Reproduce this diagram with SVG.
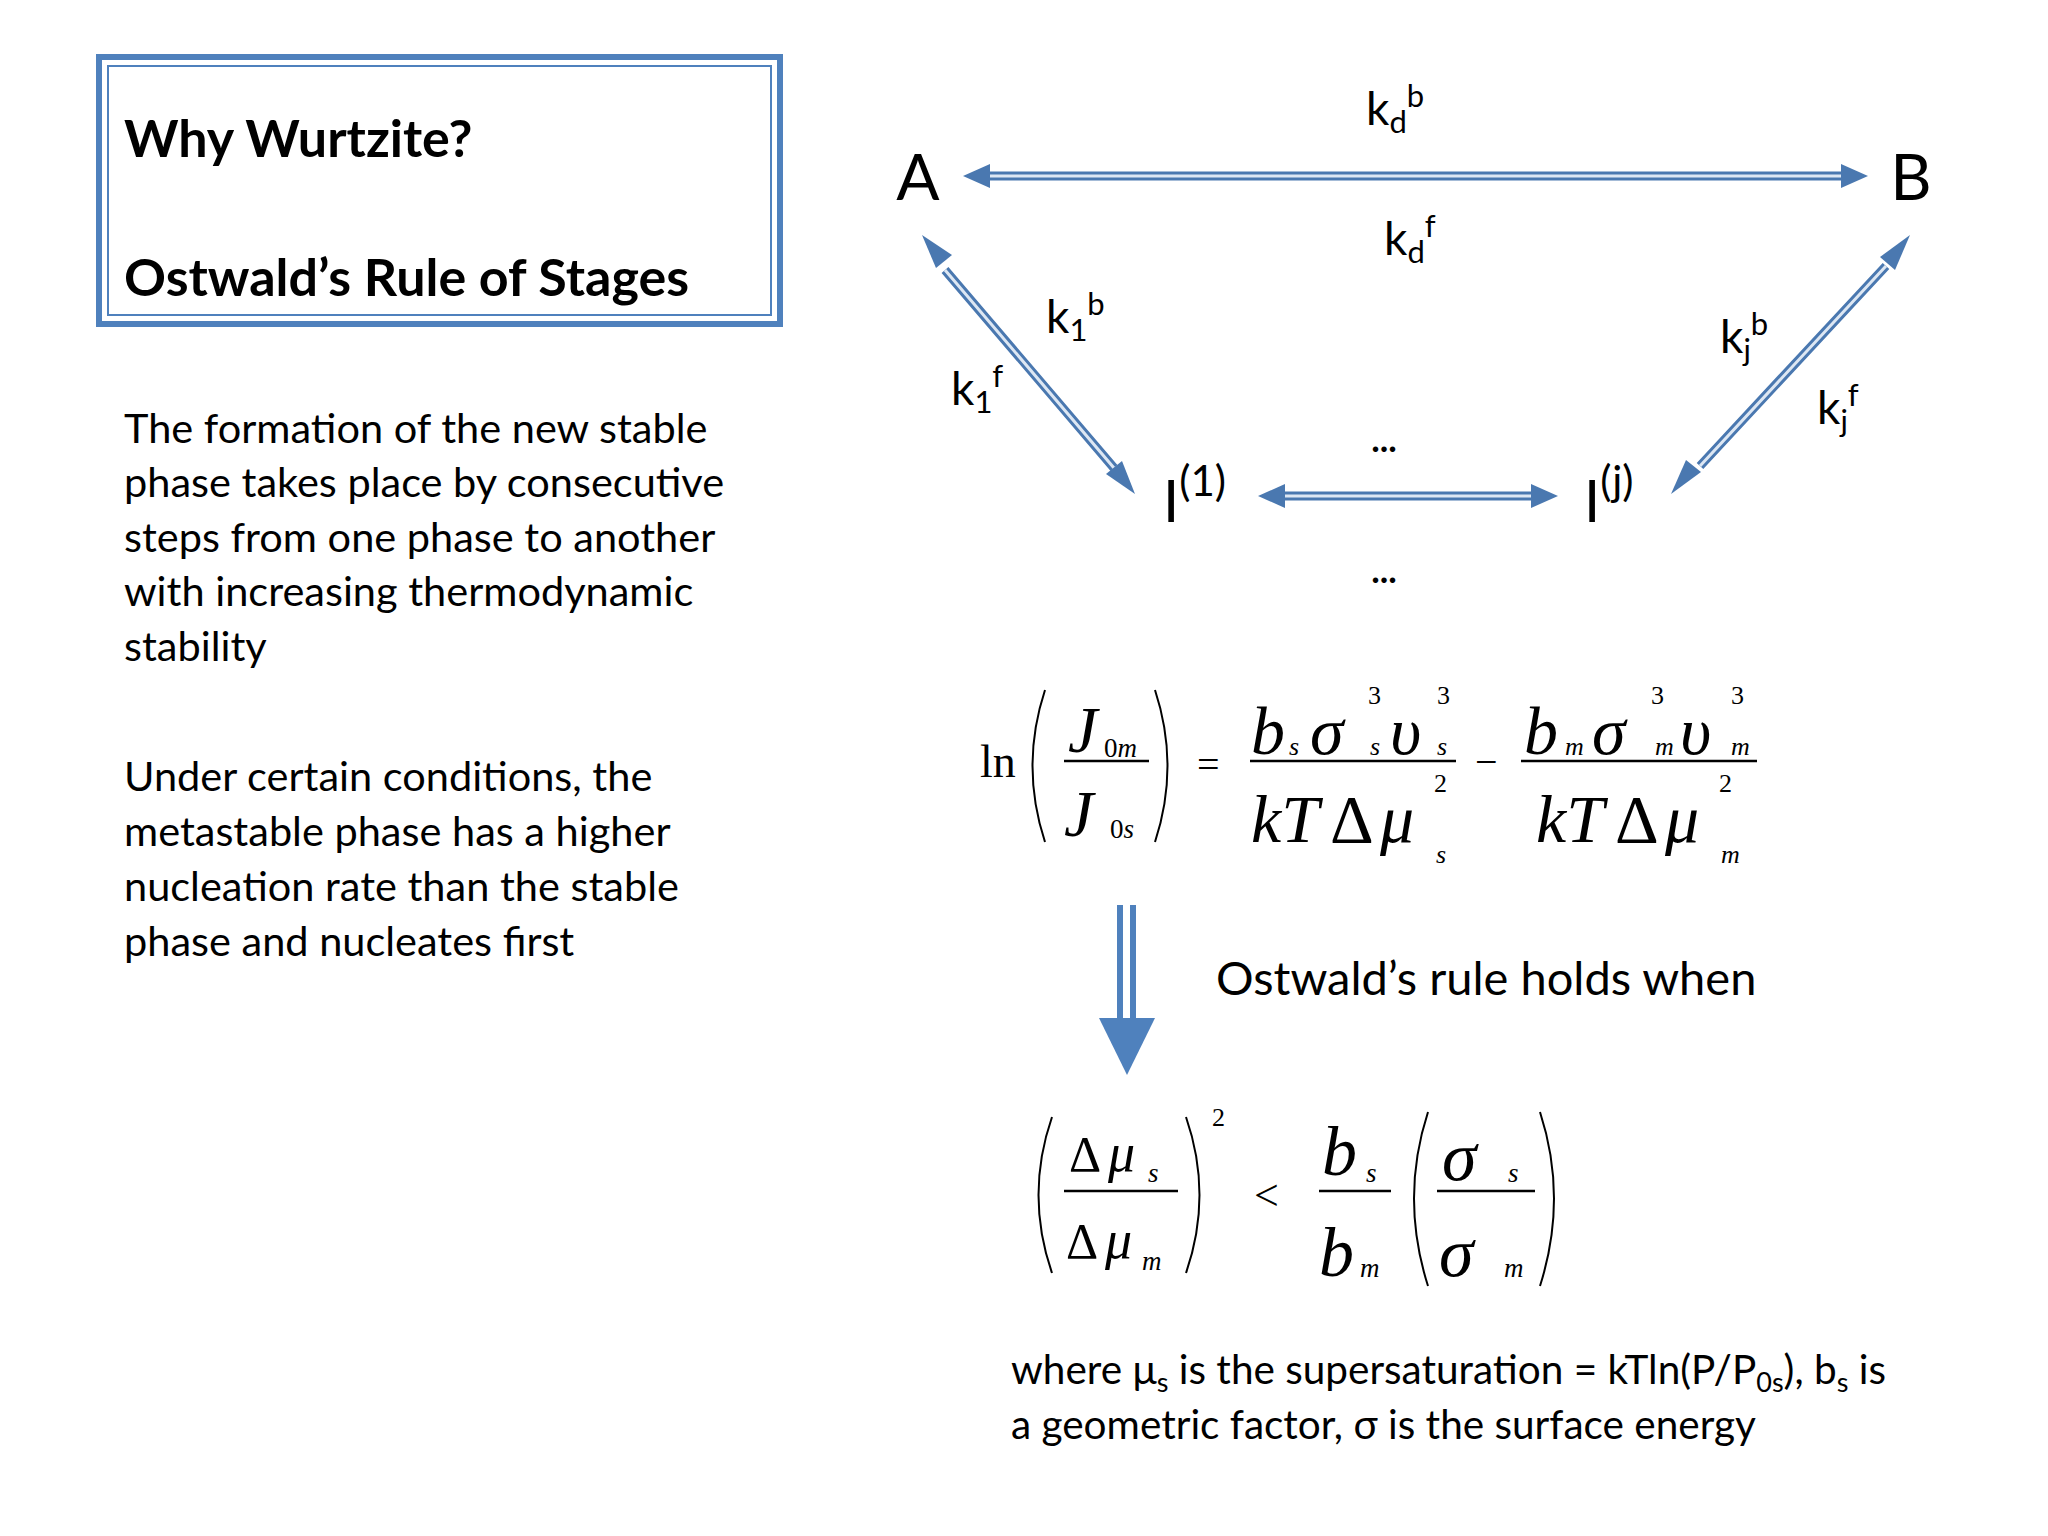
<svg xmlns="http://www.w3.org/2000/svg" width="2048" height="1536" viewBox="0 0 2048 1536">
<style>
.t{font-family:Lato,"Open Sans",sans-serif;fill:#000}
.m{font-family:"Liberation Serif",serif;font-style:italic;fill:#000}
.r{font-family:"Liberation Serif",serif;fill:#000}
.ao{stroke:#4a78b0;stroke-width:9;fill:none}
.ai{stroke:#dde7f3;stroke-width:3;fill:none}
.h{fill:#4a78b0}
.p{fill:none;stroke:#000;stroke-width:2}
.b{stroke:#000;stroke-width:2.5}
</style>
<rect width="2048" height="1536" fill="#fff"/>
<g id="titlebox">
<rect x="99" y="57" width="681" height="267" fill="none" stroke="#4f81bd" stroke-width="6"/>
<rect x="108" y="66" width="663" height="249" fill="none" stroke="#4f81bd" stroke-width="2"/>
<text class="t" x="124" y="157" font-size="52" font-weight="bold">Why Wurtzite?</text>
<text class="t" x="124" y="296" font-size="52" font-weight="bold">Ostwald’s Rule of Stages</text>
</g>
<g id="body" class="t" font-size="41.5">
<text x="124" y="443">The formation of the new stable</text>
<text x="124" y="497">phase takes place by consecutive</text>
<text x="124" y="552">steps from one phase to another</text>
<text x="124" y="606">with increasing thermodynamic</text>
<text x="124" y="661">stability</text>
<text x="124" y="791">Under certain conditions, the</text>
<text x="124" y="846">metastable phase has a higher</text>
<text x="124" y="901">nucleation rate than the stable</text>
<text x="124" y="956">phase and nucleates first</text>
</g>
<g id="connectors">
<path class="ao" d="M985 176H1846M945 270L1114 468M1886 266L1700 466M1280 496H1535"/>
<path class="ai" d="M985 176H1846M945 270L1114 468M1886 266L1700 466M1280 496H1535"/>
<polygon class="h" points="963,176 990,164 990,188"/>
<polygon class="h" points="1868,176 1841,164 1841,188"/>
<polygon class="h" points="922,235 952,255 936,268"/>
<polygon class="h" points="1135,494 1106,474 1122,461"/>
<polygon class="h" points="1910,235 1895,270 1880,257"/>
<polygon class="h" points="1671,494 1686,460 1701,472"/>
<polygon class="h" points="1258,496 1285,484 1285,508"/>
<polygon class="h" points="1558,496 1531,484 1531,508"/>
</g>
<g id="A"><text class="t" x="918" y="200" font-size="64" text-anchor="middle">A</text></g>
<g id="B"><text class="t" x="1911" y="200" font-size="64" text-anchor="middle">B</text></g>
<g id="I1"><text class="t" x="1163" y="522" font-size="58">I<tspan font-size="42" dy="-26">(1)</tspan></text></g>
<g id="Ij"><text class="t" x="1584" y="522" font-size="58">I<tspan font-size="42" dy="-26">(j)</tspan></text></g>
<g id="labels" class="t" font-size="46">
<text x="1366" y="125">k<tspan font-size="31" dy="8">d</tspan><tspan font-size="31" dy="-26">b</tspan></text>
<text x="1384" y="255">k<tspan font-size="31" dy="8">d</tspan><tspan font-size="31" dy="-26">f</tspan></text>
<text x="1046" y="333">k<tspan font-size="31" dy="8">1</tspan><tspan font-size="31" dy="-26">b</tspan></text>
<text x="951" y="405">k<tspan font-size="31" dy="8">1</tspan><tspan font-size="31" dy="-26">f</tspan></text>
<text x="1720" y="353">k<tspan font-size="31" dy="8">j</tspan><tspan font-size="31" dy="-26">b</tspan></text>
<text x="1817" y="424">k<tspan font-size="31" dy="8">j</tspan><tspan font-size="31" dy="-26">f</tspan></text>
<text x="1384" y="452" text-anchor="middle" font-weight="bold" font-size="36">...</text>
<text x="1384" y="583" text-anchor="middle" font-weight="bold" font-size="36">...</text>
</g>
<g id="eq1">
<text class="r" x="980" y="777" font-size="46">ln</text>
<path class="p" d="M1045 690Q1020 766 1045 842"/>
<path class="p" d="M1155 690Q1180 766 1155 842"/>
<line class="b" x1="1064" y1="761" x2="1149" y2="761"/>
<text class="m" x="1068" y="752" font-size="66">J</text>
<text class="r" x="1104" y="757" font-size="27">0<tspan class="m">m</tspan></text>
<text class="m" x="1064" y="836" font-size="66">J</text>
<text class="r" x="1110" y="838" font-size="27">0<tspan class="m">s</tspan></text>
<text class="r" x="1197" y="778" font-size="40">=</text>
<line class="b" x1="1250" y1="761" x2="1456" y2="761"/>
<text class="m" x="1251" y="754" font-size="68">b</text>
<text class="m" x="1289" y="755" font-size="26">s</text>
<text class="m" x="1310" y="754" font-size="68">σ</text>
<text class="m" x="1370" y="755" font-size="26">s</text>
<text class="m" x="1390" y="754" font-size="68">υ</text>
<text class="m" x="1437" y="755" font-size="26">s</text>
<text class="r" x="1368" y="704" font-size="26">3</text>
<text class="r" x="1437" y="704" font-size="26">3</text>
<text class="m" x="1251" y="842" font-size="68">kT</text>
<text class="r" x="1330" y="842" font-size="68">Δ</text>
<text class="m" x="1380" y="842" font-size="68">μ</text>
<text class="r" x="1434" y="792" font-size="26">2</text>
<text class="m" x="1436" y="863" font-size="26">s</text>
<text class="r" x="1475" y="775" font-size="40">−</text>
<line class="b" x1="1521" y1="761" x2="1757" y2="761"/>
<text class="m" x="1524" y="754" font-size="68">b</text>
<text class="m" x="1565" y="755" font-size="26">m</text>
<text class="m" x="1592" y="754" font-size="68">σ</text>
<text class="m" x="1655" y="755" font-size="26">m</text>
<text class="m" x="1680" y="754" font-size="68">υ</text>
<text class="m" x="1731" y="755" font-size="26">m</text>
<text class="r" x="1651" y="704" font-size="26">3</text>
<text class="r" x="1731" y="704" font-size="26">3</text>
<text class="m" x="1536" y="842" font-size="68">kT</text>
<text class="r" x="1615" y="842" font-size="68">Δ</text>
<text class="m" x="1665" y="842" font-size="68">μ</text>
<text class="r" x="1719" y="792" font-size="26">2</text>
<text class="m" x="1721" y="863" font-size="26">m</text>
</g>
<g id="implies">
<line x1="1120" y1="905" x2="1120" y2="1020" stroke="#4f81bd" stroke-width="6"/>
<line x1="1133" y1="905" x2="1133" y2="1020" stroke="#4f81bd" stroke-width="6"/>
<polygon points="1099,1018 1155,1018 1127,1075" fill="#4f81bd"/>
<text class="t" x="1216" y="995" font-size="47">Ostwald’s rule holds when</text>
</g>
<g id="eq2">
<path class="p" d="M1052 1117Q1025 1195 1052 1273"/>
<path class="p" d="M1186 1117Q1213 1195 1186 1273"/>
<line class="b" x1="1064" y1="1191" x2="1178" y2="1191"/>
<text class="r" x="1069" y="1171" font-size="50">Δ</text>
<text class="m" x="1108" y="1171" font-size="54">μ</text>
<text class="m" x="1148" y="1182" font-size="27">s</text>
<text class="r" x="1066" y="1258" font-size="50">Δ</text>
<text class="m" x="1105" y="1258" font-size="54">μ</text>
<text class="m" x="1142" y="1270" font-size="27">m</text>
<text class="r" x="1212" y="1126" font-size="26">2</text>
<text class="r" x="1254" y="1210" font-size="44">&lt;</text>
<line class="b" x1="1319" y1="1191" x2="1391" y2="1191"/>
<text class="m" x="1322" y="1175" font-size="70">b</text>
<text class="m" x="1366" y="1182" font-size="27">s</text>
<text class="m" x="1319" y="1276" font-size="70">b</text>
<text class="m" x="1360" y="1277" font-size="27">m</text>
<path class="p" d="M1428 1112Q1400 1198 1428 1286"/>
<path class="p" d="M1540 1112Q1568 1198 1540 1286"/>
<line class="b" x1="1437" y1="1191" x2="1535" y2="1191"/>
<text class="m" x="1442" y="1180" font-size="70">σ</text>
<text class="m" x="1508" y="1182" font-size="27">s</text>
<text class="m" x="1439" y="1276" font-size="70">σ</text>
<text class="m" x="1504" y="1277" font-size="27">m</text>
</g>
<g id="note" class="t" font-size="40.5">
<text x="1011" y="1384">where μ<tspan font-size="27" dy="8">s</tspan><tspan dy="-8"> is the supersaturation = kTln(P/P</tspan><tspan font-size="27" dy="8">0s</tspan><tspan dy="-8">), b</tspan><tspan font-size="27" dy="8">s</tspan><tspan dy="-8"> is</tspan></text>
<text x="1011" y="1439">a geometric factor, σ is the surface energy</text>
</g>
</svg>
